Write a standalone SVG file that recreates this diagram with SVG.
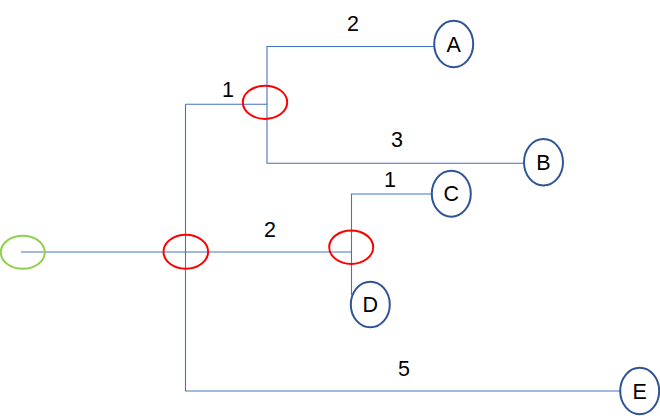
<svg xmlns="http://www.w3.org/2000/svg" width="660" height="419" viewBox="0 0 660 419">
<style>
.c{fill:none;stroke:#4472C4;stroke-width:1.1}
.n{fill:#fff;stroke:#2F5597;stroke-width:2}
.j{fill:none;stroke:#FF0000;stroke-width:2}
.s{fill:none;stroke:#92D050;stroke-width:2}
text{font-family:"Liberation Sans",Arial,sans-serif;font-size:21.5px;fill:#000;text-anchor:middle}
</style>
<rect width="660" height="419" fill="#fff"/>
<g id="connectors">
<path class="c" d="M21 252H351.5"/>
<path class="c" d="M185.5 104.3V391H620"/>
<path class="c" d="M185.5 104.3H267"/>
<path class="c" d="M434 46.5H267V163.3H524"/>
<path class="c" d="M431.7 194H351.5V295"/>
</g>
<g id="labels">
<text x="228" y="97">1</text>
<text x="353" y="31">2</text>
<text x="397" y="147">3</text>
<text x="390" y="187">1</text>
<text x="270" y="237">2</text>
<text x="404" y="376">5</text>
</g>
<g id="start"><ellipse class="s" cx="22.8" cy="252.3" rx="22" ry="16.5"/></g>
<g id="junction1"><ellipse class="j" cx="185.8" cy="251.7" rx="22.3" ry="17"/></g>
<g id="junction2"><ellipse class="j" cx="265" cy="102.3" rx="22.2" ry="16.6"/></g>
<g id="junction3"><ellipse class="j" cx="351.2" cy="247.2" rx="22" ry="16.7"/></g>
<g id="nodeA"><ellipse class="n" cx="453.7" cy="44" rx="19.5" ry="23.2"/><text x="453.7" y="51.5">A</text></g>
<g id="nodeB"><ellipse class="n" cx="543.5" cy="162.2" rx="19.5" ry="23.2"/><text x="543.5" y="169.5">B</text></g>
<g id="nodeC"><ellipse class="n" cx="451.3" cy="193.7" rx="19.5" ry="23"/><text x="451.3" y="201">C</text></g>
<g id="nodeD"><ellipse class="n" cx="370.3" cy="304.5" rx="19.5" ry="22.8"/><text x="370.3" y="312">D</text></g>
<g id="nodeE"><ellipse class="n" cx="639.7" cy="391" rx="19.5" ry="23.2"/><text x="639.7" y="398.5">E</text></g>
</svg>
